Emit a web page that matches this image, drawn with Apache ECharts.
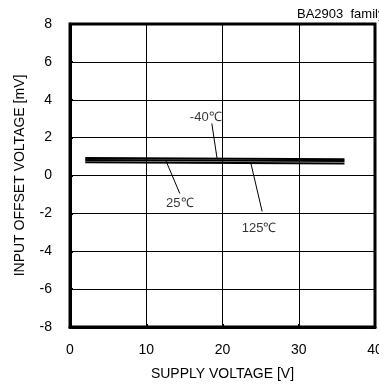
<!DOCTYPE html>
<html><head><meta charset="utf-8">
<script src="https://cdn.jsdelivr.net/npm/echarts@6/dist/echarts.min.js"></script>
<style>html,body{margin:0;padding:0;background:#fff}#c{width:379px;height:388px}</style>
</head><body><div id="c"></div>
<script>
var xTicks = [0, 10, 20, 30, 40];
var yTicks = [-8, -6, -4, -2, 0, 2, 4, 6, 8];
var supplyV = [2, 36];
var offsetM40 = [0.92, 0.86];
var offset25 = [0.82, 0.76];
var offset125 = [0.70, 0.64];
var labelNames = ['-40℃', '25℃', '125℃'];
var labelPos = [[17.8, 3.05], [14.4, -1.45], [24.8, -2.8]];
var leaders = [
  [[18.6, 2.75], [19.3, 0.86]],
  [[12.6, 0.76], [14.4, -0.95]],
  [[23.7, 0.68], [25.2, -1.9]]
];
var font = 'Liberation Sans, Arial, sans-serif';
function pairs(xs, ys){ return xs.map(function(x,i){return [x, ys[i]];}); }
var series = [];
[offsetM40, offset25, offset125].forEach(function(v){
  series.push({type:'line', data:pairs(supplyV, v), symbol:'none', lineStyle:{color:'#000', width:2}, silent:true});
});
leaders.forEach(function(l){
  series.push({type:'line', data:l, symbol:'none', lineStyle:{color:'#000', width:1}, silent:true});
});
series.push({type:'scatter', symbolSize:0, data:labelPos.map(function(p,i){return {value:p, name:labelNames[i]};}),
  label:{show:true, position:'inside', formatter:'{b}', color:'#000', fontSize:13, fontFamily:font}});
var chart = echarts.init(document.getElementById('c'), null, {renderer:'canvas'});
chart.setOption({
  animation:false,
  backgroundColor:'#fff',
  title:{text:'BA2903  family', left:292, top:3, textStyle:{fontSize:13, fontWeight:'normal', color:'#000', fontFamily:font}},
  grid:{left:70, right:4, top:24, bottom:61, outerBoundsMode:'none', containLabel:false},
  xAxis:{type:'value', min:0, max:40, interval:10, name:'SUPPLY VOLTAGE [V]', nameLocation:'middle', nameGap:40,
    nameTextStyle:{fontSize:14, color:'#000', fontFamily:font},
    axisLine:{show:true, onZero:false, lineStyle:{color:'#000', width:3}},
    axisTick:{show:true, inside:true, length:3, lineStyle:{color:'#000', width:2}},
    axisLabel:{fontSize:14, color:'#000', fontFamily:font, margin:16, hideOverlap:false, showMaxLabel:true},
    splitLine:{show:true, lineStyle:{color:'#000', width:1}}},
  yAxis:{type:'value', min:-8, max:8, interval:2, name:'INPUT OFFSET VOLTAGE [mV]', nameLocation:'middle', nameGap:43,
    nameTextStyle:{fontSize:14, color:'#000', fontFamily:font},
    axisLine:{show:true, onZero:false, lineStyle:{color:'#000', width:3}},
    axisTick:{show:true, inside:true, length:3, lineStyle:{color:'#000', width:2}},
    axisLabel:{fontSize:14, color:'#000', fontFamily:font, margin:18},
    splitLine:{show:true, lineStyle:{color:'#000', width:1}}},
  graphic:[{type:'rect', shape:{x:70, y:24, width:305, height:303}, style:{fill:'none', stroke:'#000', lineWidth:3}, silent:true, z:10}],
  series:series
});
</script></body></html>
